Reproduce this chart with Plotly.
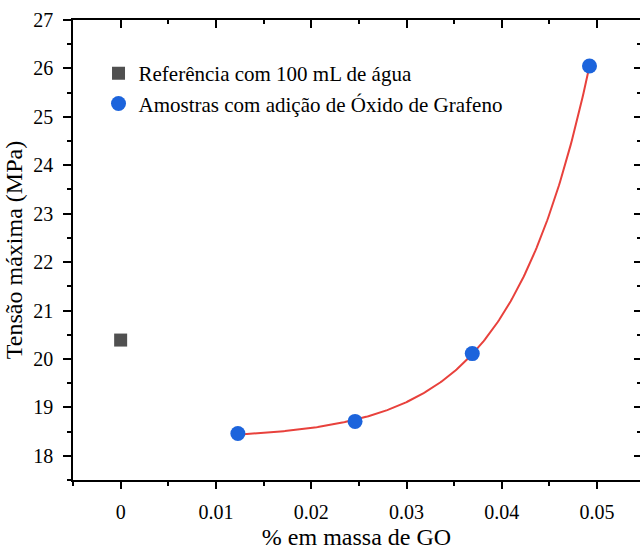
import numpy as np
import plotly.graph_objects as go

# ---- data ----
ref_x = [0.0]
ref_y = [20.39]
go_x = [0.0123, 0.0246, 0.0369, 0.0492]
go_y = [18.46, 18.71, 20.11, 26.05]
ref_name = "Referência com 100 mL de água"
go_name = "Amostras com adição de Óxido de Grafeno"
x_tickvals = [0, 0.01, 0.02, 0.03, 0.04, 0.05]
x_ticktext = ["0", "0.01", "0.02", "0.03", "0.04", "0.05"]
y_tickvals = [18, 19, 20, 21, 22, 23, 24, 25, 26, 27]

# ---- exponential growth fit y = y0 + A*exp(R*x) computed from the data ----
xa = np.array(go_x)
ya = np.array(go_y)
best = None
for R in np.linspace(5, 400, 7901):
    M = np.column_stack([np.ones_like(xa), np.exp(R * xa)])
    coef, *_ = np.linalg.lstsq(M, ya, rcond=None)
    sse = float(((M @ coef - ya) ** 2).sum())
    if best is None or sse < best[0]:
        best = (sse, R, coef)
_, Rb, cb = best
fit_x = np.linspace(min(go_x), max(go_x), 300)
fit_y = cb[0] + cb[1] * np.exp(Rb * fit_x)

FONT = "Liberation Serif"
BLUE = "#1c64dc"
GRAY = "#505050"
RED = "#e8413c"

fig = go.Figure()
fig.add_trace(go.Scatter(x=fit_x, y=fit_y, mode="lines",
                         line=dict(color=RED, width=2), showlegend=False,
                         hoverinfo="skip"))
fig.add_trace(go.Scatter(x=ref_x, y=ref_y, mode="markers", name=ref_name,
                         marker=dict(symbol="square", size=13, color=GRAY)))
fig.add_trace(go.Scatter(x=go_x, y=go_y, mode="markers", name=go_name,
                         marker=dict(symbol="circle", size=15, color=BLUE)))
# dummy trace to activate mirrored axes (top/right, inside ticks)
fig.add_trace(go.Scatter(x=[None], y=[None], xaxis="x2", yaxis="y2",
                         showlegend=False, hoverinfo="skip"))

xr = [-0.005, 0.0545]
yr = [17.5, 27]

fig.update_layout(
    width=640, height=550,
    margin=dict(l=73, r=0, t=20, b=70),
    paper_bgcolor="white", plot_bgcolor="white",
    font=dict(family=FONT, color="black", size=19),
    showlegend=True,
    legend=dict(x=0.045, y=0.928, xanchor="left", yanchor="top",
                bgcolor="rgba(0,0,0,0)", font=dict(size=21, family=FONT, color="black"),
                itemsizing="trace", tracegroupgap=0),
    xaxis=dict(range=xr, tickvals=x_tickvals, ticktext=x_ticktext,
               ticks="outside", ticklen=7, tickwidth=1.5, tickcolor="black",
               showline=True, linecolor="black", linewidth=1.5,
               showgrid=False, zeroline=False,
               minor=dict(ticks="outside", ticklen=4, tickwidth=1.5,
                          dtick=0.005, tick0=0, tickcolor="black", showgrid=False),
               tickfont=dict(size=20, family=FONT, color="black"),
               ticklabelstandoff=6,
               title=dict(text="% em massa de GO",
                          font=dict(size=24, family=FONT, color="black"),
                          standoff=10)),
    yaxis=dict(range=yr, tickvals=y_tickvals,
               ticks="outside", ticklen=8, tickwidth=1.5, tickcolor="black",
               showline=True, linecolor="black", linewidth=1.5,
               showgrid=False, zeroline=False,
               minor=dict(ticks="outside", ticklen=4, tickwidth=1.5,
                          dtick=0.5, tick0=0, tickcolor="black", showgrid=False),
               tickfont=dict(size=20, family=FONT, color="black"),
               ticklabelstandoff=6,
               title=dict(text="Tensão máxima (MPa)",
                          font=dict(size=24, family=FONT, color="black"),
                          standoff=4)),
    xaxis2=dict(range=xr, overlaying="x", side="top", anchor="y2",
                tickvals=x_tickvals, showticklabels=False,
                ticks="inside", ticklen=8, tickwidth=1.5, tickcolor="black",
                showline=True, linecolor="black", linewidth=1.5,
                showgrid=False, zeroline=False,
                minor=dict(ticks="inside", ticklen=4, tickwidth=1.5,
                           dtick=0.005, tick0=0, tickcolor="black", showgrid=False)),
    yaxis2=dict(range=yr, overlaying="y", side="right", anchor="x2",
                tickvals=y_tickvals, showticklabels=False,
                ticks="inside", ticklen=6, tickwidth=1.5, tickcolor="black",
                showline=True, linecolor="black", linewidth=1.5,
                showgrid=False, zeroline=False,
                minor=dict(ticks="inside", ticklen=3, tickwidth=1.5,
                           dtick=0.5, tick0=0, tickcolor="black", showgrid=False)),
)

fig.write_html("out.html")
